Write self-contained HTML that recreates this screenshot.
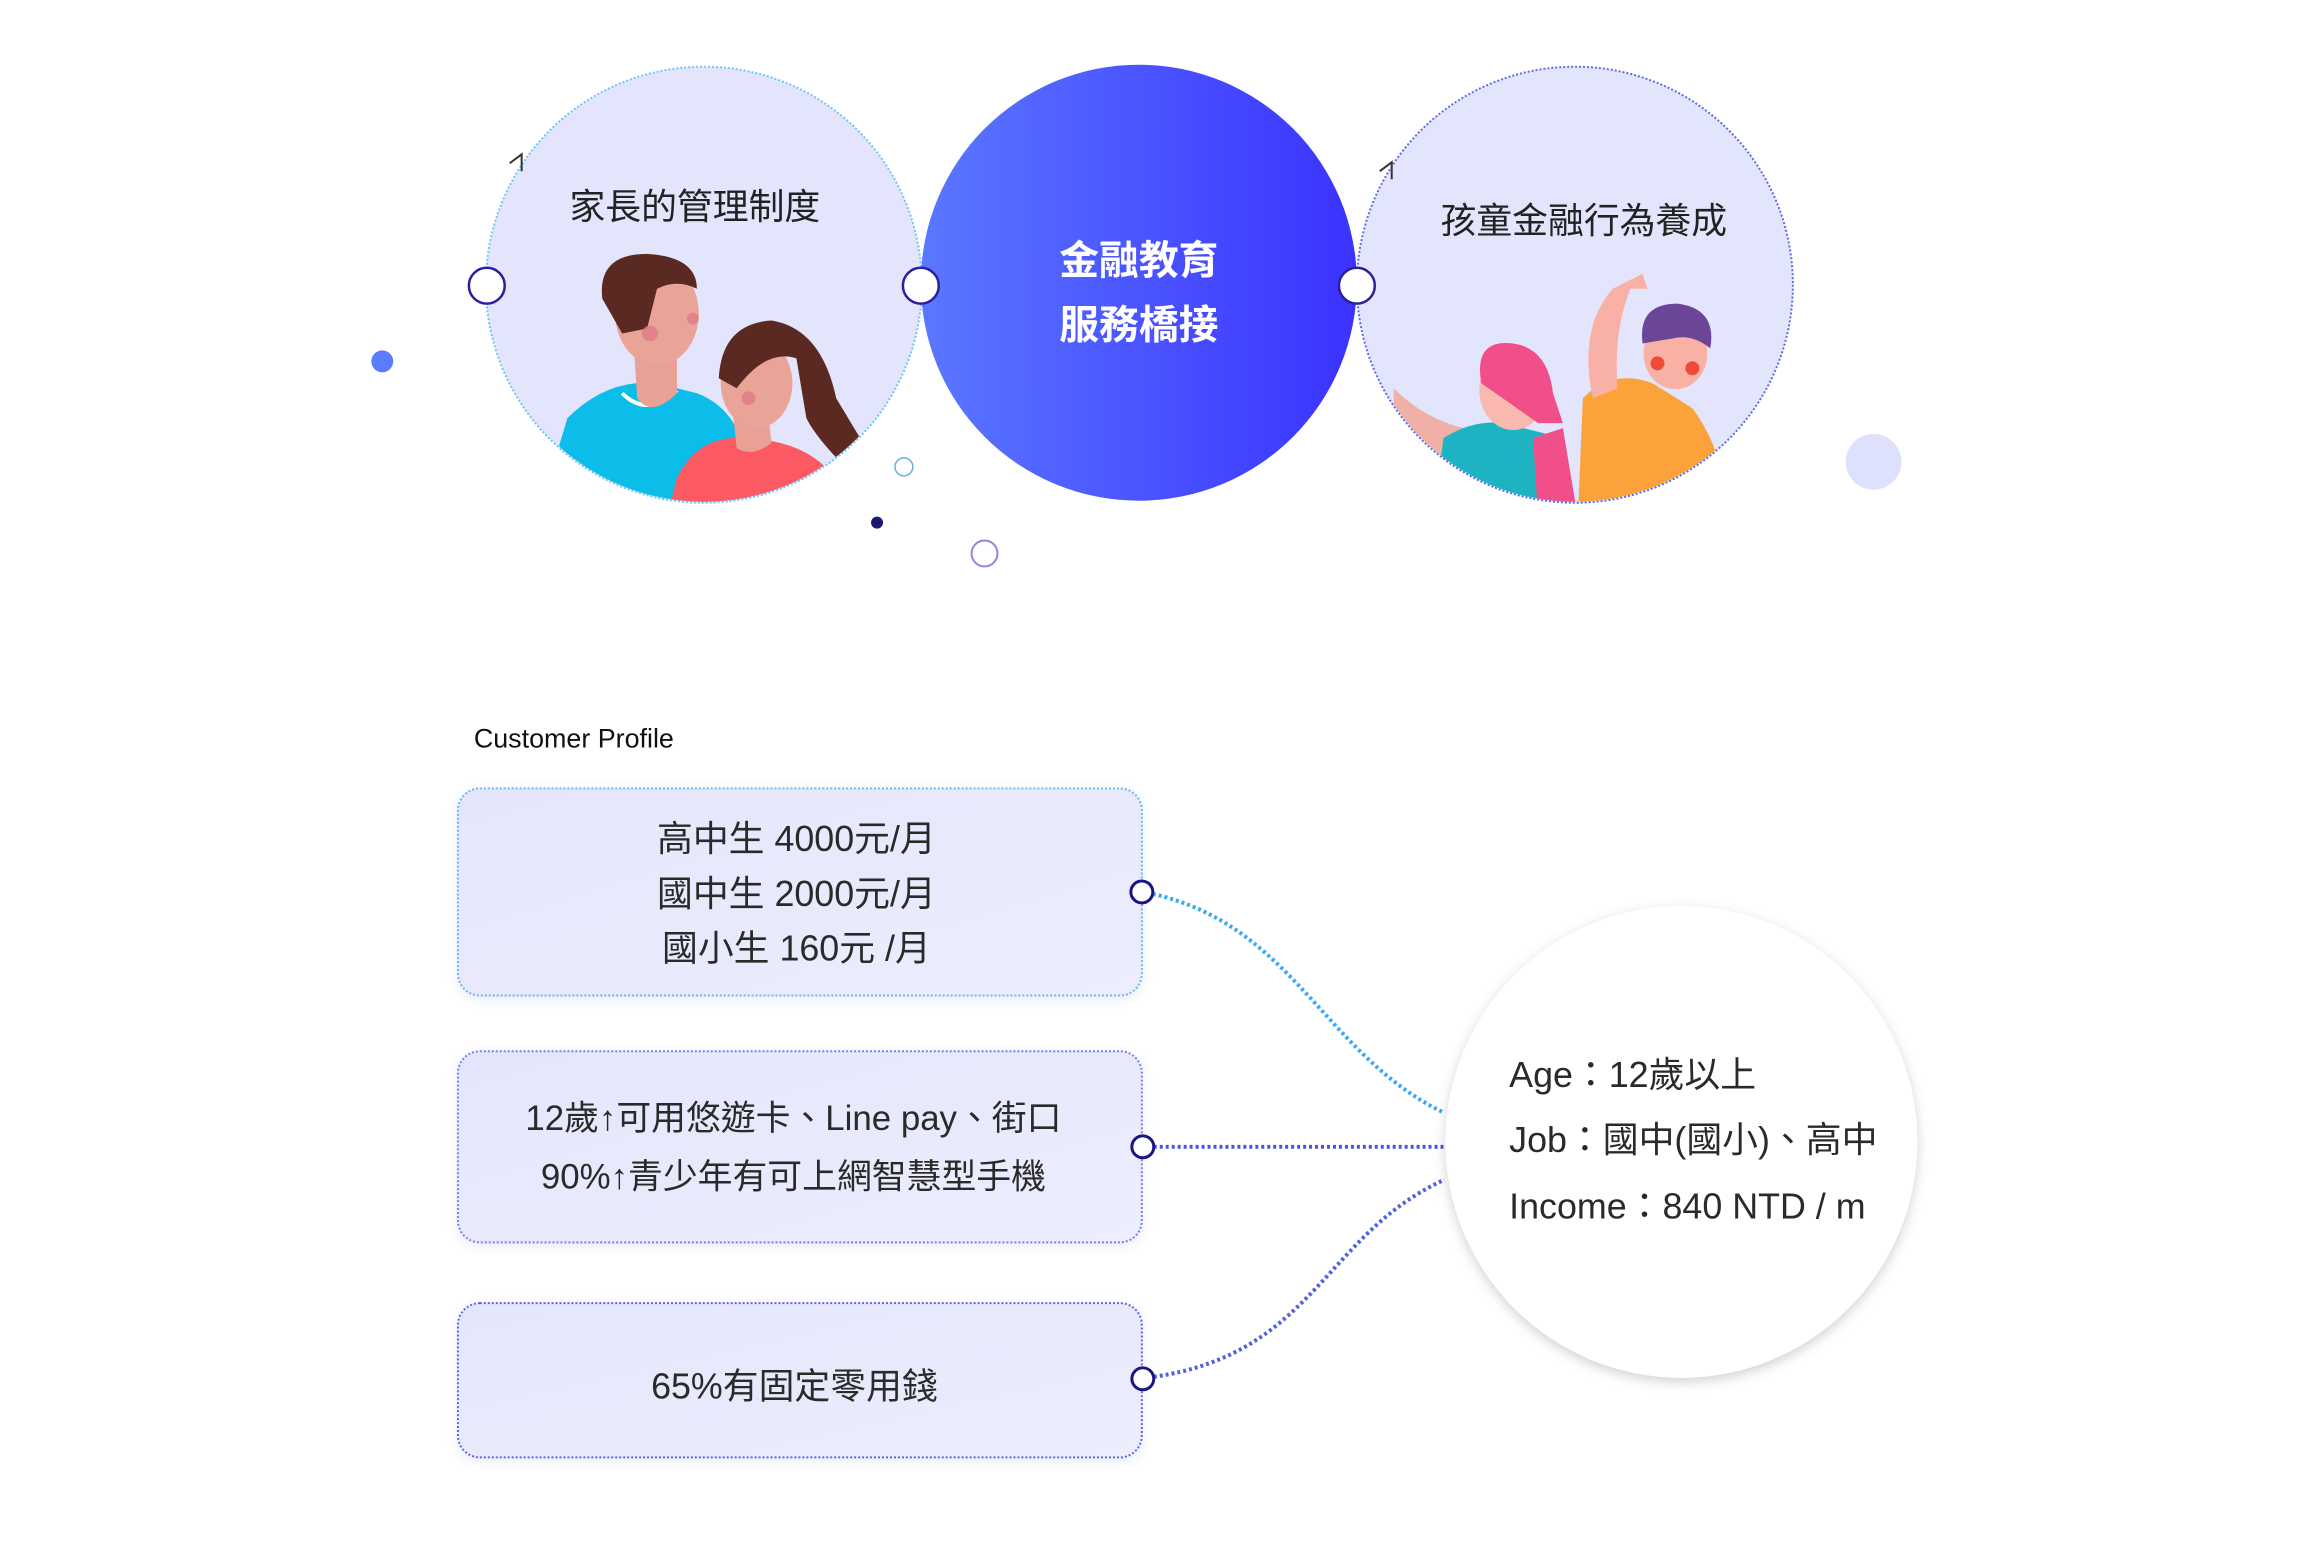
<!DOCTYPE html>
<html><head><meta charset="utf-8"><style>
body{margin:0;background:#fff;}
svg{display:block}
text{font-family:"Liberation Sans","Noto Sans CJK TC",sans-serif;}
</style></head><body>
<svg width="2321" height="1556" viewBox="0 0 2321 1556" xmlns="http://www.w3.org/2000/svg">
<defs>
<linearGradient id="mg" x1="0" y1="0" x2="1" y2="0"><stop offset="0" stop-color="#5a78ff"/><stop offset="1" stop-color="#3b32ff"/></linearGradient>
<linearGradient id="bx" x1="0" y1="0" x2="1" y2="1"><stop offset="0" stop-color="#e4e6fc"/><stop offset="1" stop-color="#eceefd"/></linearGradient>
<clipPath id="cl"><circle cx="707" cy="286" r="218"/></clipPath>
<clipPath id="cr"><circle cx="1582" cy="286" r="218"/></clipPath>
<filter id="sh" x="-20%" y="-20%" width="140%" height="140%"><feDropShadow dx="0" dy="4" stdDeviation="6" flood-color="#000" flood-opacity="0.18"/></filter>
<filter id="sh2" x="-20%" y="-20%" width="140%" height="140%"><feDropShadow dx="0" dy="3" stdDeviation="5" flood-color="#6070c0" flood-opacity="0.15"/></filter>
</defs>
<g transform="scale(0.9955)">
<!-- left circle -->
<circle cx="707" cy="286" r="219" fill="#e2e5fb" stroke="#6fc6f5" stroke-width="2" stroke-dasharray="2 2"/>
<g clip-path="url(#cl)">
  <path d="M570 420 Q610 380 660 385 L700 395 Q740 410 750 460 L760 520 L540 520 Z" fill="#0bbde8"/>
  <path d="M625 395 Q650 420 680 392" stroke="#fff" stroke-width="4" fill="none"/>
  <path d="M635 320 L640 400 Q655 420 680 395 L680 350 Z" fill="#e9a095"/>
  <ellipse cx="660" cy="315" rx="42" ry="52" fill="#eaa497"/>
  <path d="M605 300 Q600 255 650 255 Q700 258 700 290 Q680 280 660 290 L650 330 L625 335 Z" fill="#5a2a22"/>
  <circle cx="653" cy="335" r="8" fill="#e07b8a" opacity=".8"/>
  <circle cx="696" cy="320" r="6" fill="#e07b8a" opacity=".8"/>
  <path d="M680 480 Q700 440 740 440 Q800 440 830 470 L850 520 L670 520 Z" fill="#fc5a62"/>
  <path d="M735 405 L740 450 Q755 460 775 445 L770 400 Z" fill="#e9a095"/>
  <ellipse cx="760" cy="385" rx="36" ry="45" fill="#eaa497"/>
  <path d="M722 380 Q725 325 775 322 Q825 330 840 400 L870 450 L850 470 Q820 440 810 420 L800 360 Q770 350 740 390 Z" fill="#5a2a22"/>
  <circle cx="752" cy="400" r="7" fill="#e07b8a" opacity=".8"/>
</g>
<path d="M512 164 L524 155 L524 172" stroke="#333" stroke-width="2" fill="none"/>
<text x="698" y="220" font-size="36" text-anchor="middle" fill="#222">家長的管理制度</text>

<!-- middle circle -->
<circle cx="1144" cy="284" r="219" fill="url(#mg)"/>
<text x="1144" y="275" font-size="40" text-anchor="middle" fill="#fff" font-weight="bold">金融教育</text>
<text x="1144" y="340" font-size="40" text-anchor="middle" fill="#fff" font-weight="bold">服務橋接</text>

<!-- right circle -->
<circle cx="1582" cy="286" r="219" fill="#e2e5fb" stroke="#5a6ce8" stroke-width="2" stroke-dasharray="2 2"/>
<g clip-path="url(#cr)">
  <path d="M1400 390 Q1430 420 1470 430 L1480 460 L1400 460 Z" fill="#f0b0a8"/>
  <path d="M1440 520 L1450 440 Q1490 415 1530 430 L1570 440 L1575 520 Z" fill="#1eb3c3"/>
  <path d="M1540 440 L1570 430 L1585 520 L1545 520 Z" fill="#f04f8a"/>
  <ellipse cx="1520" cy="392" rx="34" ry="40" fill="#f9b8b0"/>
  <path d="M1488 385 Q1480 340 1520 345 Q1555 350 1560 395 L1570 425 L1545 425 Z" fill="#f04f8a"/>
  <path d="M1590 400 Q1620 370 1660 385 L1700 410 Q1730 450 1740 520 L1585 520 Z" fill="#fba33a"/>
  <path d="M1600 400 Q1585 330 1620 290 L1640 285 Q1620 330 1625 390 Z" fill="#f9b0a5"/>
  <path d="M1620 290 L1650 275 L1655 290 Z" fill="#f9b0a5"/>
  <ellipse cx="1683" cy="355" rx="32" ry="36" fill="#f9b0a5"/>
  <path d="M1650 345 Q1645 305 1685 305 Q1725 310 1718 350 Q1700 335 1680 340 Z" fill="#6b4597"/>
  <circle cx="1665" cy="365" r="7" fill="#f04a3a"/>
  <circle cx="1700" cy="370" r="7" fill="#f04a3a"/>
</g>
<path d="M1386 172 L1398 163 L1398 180" stroke="#333" stroke-width="2" fill="none"/>
<text x="1591" y="234" font-size="36" text-anchor="middle" fill="#222">孩童金融行為養成</text>

<!-- connector dots -->
<circle cx="489" cy="287" r="18" fill="#fff" stroke="#2a1f9e" stroke-width="2.5"/>
<circle cx="925" cy="287" r="18" fill="#fff" stroke="#2a1f9e" stroke-width="2.5"/>
<circle cx="1363" cy="287" r="18" fill="#fff" stroke="#2a1f9e" stroke-width="2.5"/>

<!-- decorations -->
<circle cx="384" cy="363" r="11" fill="#5b7cff"/>
<circle cx="1882" cy="464" r="28" fill="#dde1fc"/>
<circle cx="908" cy="469" r="9" fill="#fff" stroke="#6aaedb" stroke-width="1.5"/>
<circle cx="881" cy="525" r="6" fill="#1b1670"/>
<circle cx="989" cy="556" r="13" fill="#fff" stroke="#8a8ad8" stroke-width="2"/>

<!-- Customer profile -->
<text x="476" y="751" font-size="27" fill="#111">Customer Profile</text>

<rect x="460" y="792" width="687" height="208" rx="22" fill="url(#bx)" stroke="#69b8f2" stroke-width="2" stroke-dasharray="2 2" filter="url(#sh2)"/>
<text font-size="36" text-anchor="middle" fill="#2a2a2a"><tspan x="800" y="855">高中生 4000元/月</tspan><tspan x="800" y="910">國中生 2000元/月</tspan><tspan x="800" y="965">國小生 160元  /月</tspan></text>

<rect x="460" y="1056" width="687" height="192" rx="22" fill="url(#bx)" stroke="#7a7ef0" stroke-width="2" stroke-dasharray="2 2" filter="url(#sh2)"/>
<text font-size="35" text-anchor="middle" fill="#2a2a2a"><tspan x="797" y="1135">12歲↑可用悠遊卡、Line pay、街口</tspan><tspan x="797" y="1194">90%↑青少年有可上網智慧型手機</tspan></text>

<rect x="460" y="1309" width="687" height="155" rx="22" fill="url(#bx)" stroke="#5b65e8" stroke-width="2" stroke-dasharray="2 2" filter="url(#sh2)"/>
<text x="798" y="1405" font-size="36" text-anchor="middle" fill="#2a2a2a">65%有固定零用錢</text>

<!-- connectors -->
<path d="M1158 898 C1300 930 1330 1060 1451 1118" fill="none" stroke="#3aa8f5" stroke-width="4" stroke-dasharray="3 3"/>
<path d="M1159 1152 L1451 1152" fill="none" stroke="#4a52e8" stroke-width="4" stroke-dasharray="3 3"/>
<path d="M1159 1383 C1320 1360 1330 1240 1451 1185" fill="none" stroke="#4f62e0" stroke-width="4" stroke-dasharray="3 3"/>
<circle cx="1147" cy="896" r="11" fill="#fff" stroke="#1b1580" stroke-width="3"/>
<circle cx="1148" cy="1152" r="11" fill="#fff" stroke="#1b1580" stroke-width="3"/>
<circle cx="1148" cy="1385" r="11" fill="#fff" stroke="#1b1580" stroke-width="3"/>

<!-- big circle -->
<circle cx="1689" cy="1147" r="237" fill="#fff" filter="url(#sh)"/>
<text font-size="36" fill="#2a2a2a"><tspan x="1516" y="1092">Age：12歲以上</tspan><tspan x="1516" y="1157">Job：國中(國小)、高中</tspan><tspan x="1516" y="1224">Income：840 NTD / m</tspan></text>
</g>
</svg>
</body></html>
